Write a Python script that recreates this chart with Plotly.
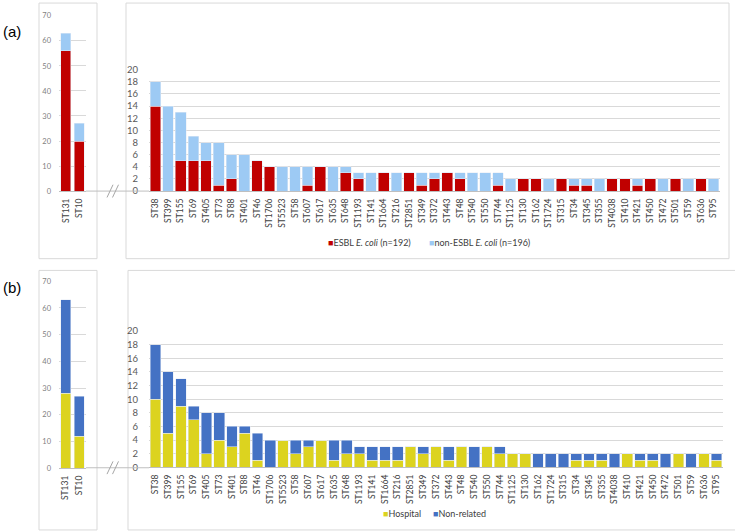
import plotly.graph_objects as go

W, H = 735, 532

# ---------------- data ----------------
left_cats = ["ST131", "ST10"]
a_left_esbl = [56, 20]
a_left_non = [7, 7]
b_left_hosp = [28, 12]
b_left_non = [35, 15]

a_cats = ["ST38", "ST399", "ST155", "ST69", "ST405", "ST73", "ST88", "ST401", "ST46", "ST1706",
          "ST5523", "ST58", "ST607", "ST617", "ST635", "ST648", "ST1193", "ST141", "ST1664", "ST216",
          "ST2851", "ST349", "ST372", "ST443", "ST48", "ST540", "ST550", "ST744", "ST1125", "ST130",
          "ST162", "ST1724", "ST315", "ST34", "ST345", "ST355", "ST4038", "ST410", "ST421", "ST450",
          "ST472", "ST501", "ST59", "ST636", "ST95"]
a_esbl = [14, 0, 5, 5, 5, 1, 2, 0, 5, 4,
          0, 0, 1, 4, 0, 3, 2, 0, 3, 0,
          3, 1, 2, 3, 2, 0, 0, 1, 0, 2,
          2, 0, 2, 1, 1, 0, 2, 2, 1, 2,
          0, 2, 0, 2, 0]
a_non = [4, 14, 8, 4, 3, 7, 4, 6, 0, 0,
         4, 4, 3, 0, 4, 1, 1, 3, 0, 3,
         0, 2, 1, 0, 1, 3, 3, 2, 2, 0,
         0, 2, 0, 1, 1, 2, 0, 0, 1, 0,
         2, 0, 2, 0, 2]

b_cats = ["ST38", "ST399", "ST155", "ST69", "ST405", "ST73", "ST401", "ST88", "ST46", "ST1706",
          "ST5523", "ST58", "ST607", "ST617", "ST635", "ST648", "ST1193", "ST141", "ST1664", "ST216",
          "ST2851", "ST349", "ST372", "ST443", "ST48", "ST540", "ST550", "ST744", "ST1125", "ST130",
          "ST162", "ST1724", "ST315", "ST34", "ST345", "ST355", "ST4038", "ST410", "ST421", "ST450",
          "ST472", "ST501", "ST59", "ST636", "ST95"]
b_hosp = [10, 5, 9, 7, 2, 4, 3, 5, 1, 0,
          4, 2, 3, 4, 1, 2, 2, 1, 1, 1,
          3, 2, 3, 1, 3, 0, 3, 2, 2, 2,
          0, 0, 0, 1, 1, 1, 0, 2, 1, 1,
          0, 2, 0, 2, 1]
b_non = [8, 9, 4, 2, 6, 4, 3, 1, 4, 4,
         0, 2, 1, 0, 3, 2, 1, 2, 2, 2,
         0, 1, 0, 2, 0, 3, 0, 1, 0, 0,
         2, 2, 2, 1, 1, 1, 2, 0, 1, 1,
         2, 0, 2, 0, 1]

legend_a = ["ESBL <i>E. coli</i> (n=192)", "non-ESBL <i>E. coli</i> (n=196)"]
legend_b = ["Hospital", "Non-related"]

RED, LBLUE = "#c00000", "#9dcaf4"
YELLOW, DBLUE = "#dcd31f", "#4472c4"
FONT = "Lato"


def xf(px):
    return px / W


def yf(py):
    return 1 - py / H


fig = go.Figure()

# panel (a)
fig.add_bar(x=left_cats, y=a_left_esbl, marker_color=RED, width=0.72, xaxis="x", yaxis="y",
            name="ESBL E. coli", showlegend=False)
fig.add_bar(x=left_cats, y=a_left_non, marker_color=LBLUE, width=0.72, xaxis="x", yaxis="y",
            name="non-ESBL E. coli", showlegend=False)
fig.add_bar(x=a_cats, y=a_esbl, marker_color=RED, xaxis="x2", yaxis="y2",
            name="ESBL E. coli", showlegend=False)
fig.add_bar(x=a_cats, y=a_non, marker_color=LBLUE, xaxis="x2", yaxis="y2",
            name="non-ESBL E. coli", showlegend=False)
# panel (b)
fig.add_bar(x=left_cats, y=b_left_hosp, marker_color=YELLOW, width=0.72, xaxis="x3", yaxis="y3",
            name="Hospital", showlegend=False)
fig.add_bar(x=left_cats, y=b_left_non, marker_color=DBLUE, width=0.72, xaxis="x3", yaxis="y3",
            name="Non-related", showlegend=False)
fig.add_bar(x=b_cats, y=b_hosp, marker_color=YELLOW, xaxis="x4", yaxis="y4",
            name="Hospital", showlegend=False)
fig.add_bar(x=b_cats, y=b_non, marker_color=DBLUE, xaxis="x4", yaxis="y4",
            name="Non-related", showlegend=False)

GRID = "#d9d9d9"
AXL = "#bfbfbf"
xcommon = dict(type="category", tickangle=-90, showgrid=False, showline=True, linecolor=AXL,
               linewidth=1, ticks="", tickfont=dict(family=FONT, size=8.5, color="#404040"),
               ticklabelstandoff=3, fixedrange=True)
ycommon_big = dict(showgrid=True, gridcolor=GRID, gridwidth=1, zeroline=False, showline=False,
                   tickfont=dict(family=FONT, size=9.5, color="#595959"), ticks="",
                   ticklabelstandoff=10, dtick=2, range=[0, 20], fixedrange=True)
ycommon_small = dict(showgrid=True, gridcolor=GRID, gridwidth=1, zeroline=False, showline=False,
                     tickfont=dict(family=FONT, size=7.5, color="#7f7f7f"), ticks="",
                     ticklabelstandoff=7, dtick=10, range=[0, 70], fixedrange=True)

fig.update_layout(
    width=W, height=H, margin=dict(l=0, r=0, t=0, b=0),
    paper_bgcolor="white", plot_bgcolor="white",
    barmode="stack", bargap=0.16, showlegend=False,
    font=dict(family=FONT),
    xaxis=dict(domain=[xf(59), xf(86)], anchor="y", **xcommon),
    yaxis=dict(domain=[yf(189), yf(10)], anchor="x", **ycommon_small),
    xaxis2=dict(domain=[xf(149), xf(720)], anchor="y2", **xcommon),
    yaxis2=dict(domain=[yf(189), yf(65)], anchor="x2", **ycommon_big),
    xaxis3=dict(domain=[xf(59), xf(86)], anchor="y3", **xcommon),
    yaxis3=dict(domain=[yf(472), yf(281)], anchor="x3", **ycommon_small),
    xaxis4=dict(domain=[xf(149), xf(723)], anchor="y4", **xcommon),
    yaxis4=dict(domain=[yf(471), yf(332)], anchor="x4", **ycommon_big),
)

shapes = []
BOX = "#d9d9d9"
for (x0, x1, y0, y1) in [(39, 97, -3, 258), (126, 729, -3, 258), (39, 97, 270, 535), (128, 738, 270, 535)]:
    shapes.append(dict(type="rect", xref="paper", yref="paper", x0=xf(x0), x1=xf(x1),
                       y0=yf(y1), y1=yf(y0), line=dict(color=BOX, width=1), layer="below"))
for yz in (189, 471.5):
    shapes.append(dict(type="line", xref="paper", yref="paper", x0=xf(86), x1=xf(149),
                       y0=yf(yz), y1=yf(yz), line=dict(color=AXL, width=1)))
    for dx in (0, 5.5):
        shapes.append(dict(type="line", xref="paper", yref="paper", x0=xf(107 + dx), x1=xf(113 + dx),
                           y0=yf(yz + 6.5), y1=yf(yz - 6.5), line=dict(color="#a6a6a6", width=1)))
fig.update_layout(shapes=shapes)

ann = []
ann.append(dict(text="(a)", x=xf(1), y=yf(26), xref="paper", yref="paper", xanchor="left",
                yanchor="middle", showarrow=False, font=dict(family="Liberation Sans", size=15, color="black")))
ann.append(dict(text="(b)", x=xf(1), y=yf(287), xref="paper", yref="paper", xanchor="left",
                yanchor="middle", showarrow=False, font=dict(family="Liberation Sans", size=15, color="black")))


def legend_item(label, color, px, py):
    return dict(text=f"<span style='color:{color}'>■</span>{label}", x=xf(px), y=yf(py),
                xref="paper", yref="paper", xanchor="left", yanchor="middle", showarrow=False,
                font=dict(family=FONT, size=9, color="#404040"))


ann.append(legend_item(legend_a[0], RED, 326, 242))
ann.append(legend_item(legend_a[1], LBLUE, 427, 242))
ann.append(legend_item(legend_b[0], YELLOW, 381, 518))
ann.append(legend_item(legend_b[1], DBLUE, 431, 518))
fig.update_layout(annotations=ann)

fig.write_html("out.html", config={"displayModeBar": False},
               post_script="document.body.style.margin='0';document.body.style.overflow='hidden';")
